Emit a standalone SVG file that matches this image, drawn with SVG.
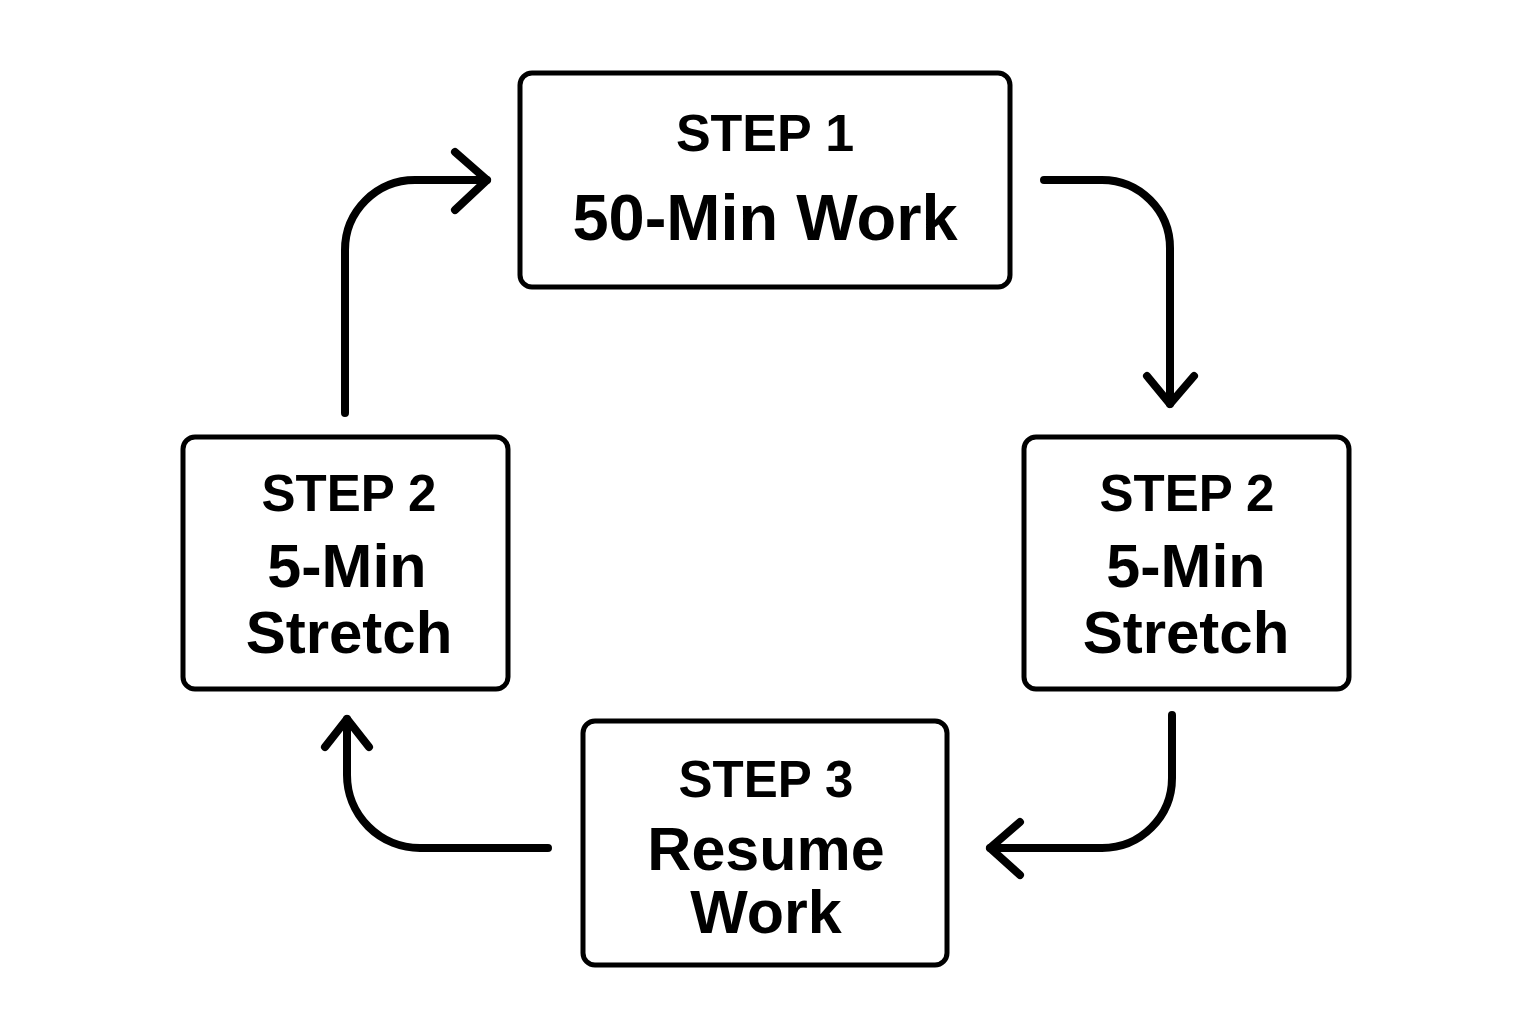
<svg xmlns="http://www.w3.org/2000/svg" width="1536" height="1024" viewBox="0 0 1536 1024">
<style>
.box{fill:#fff;stroke:#000;stroke-width:5}
.t{font-family:"Liberation Sans",Arial,sans-serif;font-weight:bold;fill:#000;text-anchor:middle}
.c{fill:none;stroke:#000;stroke-width:8;stroke-linecap:round;stroke-linejoin:round}
</style>
<rect width="1536" height="1024" fill="#fff"/>
<g id="step1">
<rect class="box" x="520" y="73" width="490" height="214" rx="12"/>
<text class="t" x="765" y="151" font-size="52">STEP 1</text>
<text class="t" x="765" y="240" font-size="65">50-Min Work</text>
</g>
<g id="step2-right">
<rect class="box" x="1024" y="437" width="325" height="252" rx="12"/>
<text class="t" x="1187" y="511" font-size="51">STEP 2</text>
<text class="t" x="1186" y="587" font-size="61">5-Min</text>
<text class="t" x="1186" y="653" font-size="60">Stretch</text>
</g>
<g id="step3">
<rect class="box" x="583" y="721" width="364" height="244" rx="12"/>
<text class="t" x="766" y="797" font-size="51">STEP 3</text>
<text class="t" x="766" y="870" font-size="61">Resume</text>
<text class="t" x="766" y="933" font-size="61">Work</text>
</g>
<g id="step2-left">
<rect class="box" x="183" y="437" width="325" height="252" rx="12"/>
<text class="t" x="349" y="511" font-size="51">STEP 2</text>
<text class="t" x="347" y="587" font-size="61">5-Min</text>
<text class="t" x="349" y="653" font-size="60">Stretch</text>
</g>
<g id="connectors">
<path class="c" d="M1044 180 H1102 A68 68 0 0 1 1170 248 V404"/>
<path class="c" d="M1147 376 L1170 404 L1194 376"/>
<path class="c" d="M1172 715 V778 A70 70 0 0 1 1102 848 H990"/>
<path class="c" d="M1020 822 L990 848 L1020 875"/>
<path class="c" d="M548 848 H420 A73 73 0 0 1 347 775 V719"/>
<path class="c" d="M325 747 L347 719 L369 747"/>
<path class="c" d="M345 413 V250 A70 70 0 0 1 415 180 H487"/>
<path class="c" d="M455 152 L487 180 L455 210"/>
</g>
</svg>
